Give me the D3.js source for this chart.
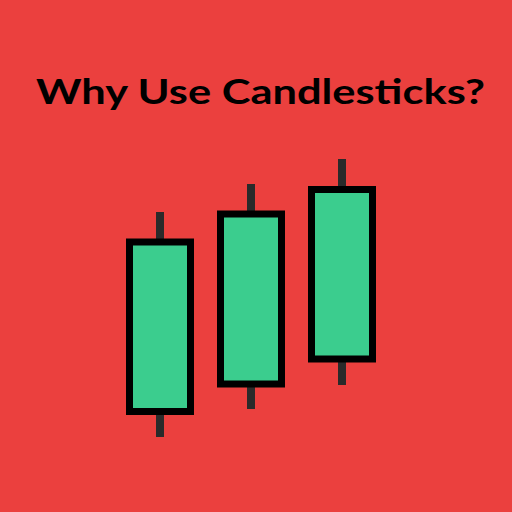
<!DOCTYPE html>
<html>
<head>
<meta charset="utf-8">
<script src="https://cdn.jsdelivr.net/npm/d3@7"></script>
<style>
  html, body { margin: 0; padding: 0; background: #EB403E; }
  svg { display: block; }
</style>
</head>
<body>
<svg id="chart" width="512" height="512"></svg>
<script>
const days = ["Day 1", "Day 2", "Day 3"];
const openVals = [38.5, 66, 91];
const closeVals = [208, 236, 260.5];
const highVals = [238, 266, 291];
const lowVals = [13, 41, 65];
const title = "Why Use Candlesticks?";

const svg = d3.select("#chart");
const W = 512, H = 512;

svg.append("rect").attr("width", W).attr("height", H).attr("fill", "#EB403E");

const x = d3.scalePoint().domain(days).range([160, 342]);
const y = d3.scaleLinear().domain([0, 300]).range([450, 150]);

const bodyW = 61;

const data = days.map((d, i) => ({
  day: d, open: openVals[i], close: closeVals[i], high: highVals[i], low: lowVals[i]
}));

const g = svg.append("g");

g.selectAll("line.wick").data(data).join("line")
  .attr("class", "wick")
  .attr("x1", d => x(d.day)).attr("x2", d => x(d.day))
  .attr("y1", d => y(d.high)).attr("y2", d => y(d.low))
  .attr("stroke", "#2A2A2A").attr("stroke-width", 8);

g.selectAll("rect.body").data(data).join("rect")
  .attr("class", "body")
  .attr("x", d => x(d.day) - bodyW / 2)
  .attr("width", bodyW)
  .attr("y", d => y(Math.max(d.open, d.close)))
  .attr("height", d => Math.abs(y(d.open) - y(d.close)))
  .attr("fill", "#3BCD8E")
  .attr("stroke", "#000").attr("stroke-width", 7);

svg.append("text")
  .attr("x", 36).attr("y", 104)
  .attr("textLength", 449).attr("lengthAdjust", "spacingAndGlyphs")
  .attr("font-family", "Lato, 'Open Sans', sans-serif")
  .attr("font-weight", "bold")
  .attr("font-size", 35)
  .attr("fill", "#000")
  .text(title);
</script>
</body>
</html>
